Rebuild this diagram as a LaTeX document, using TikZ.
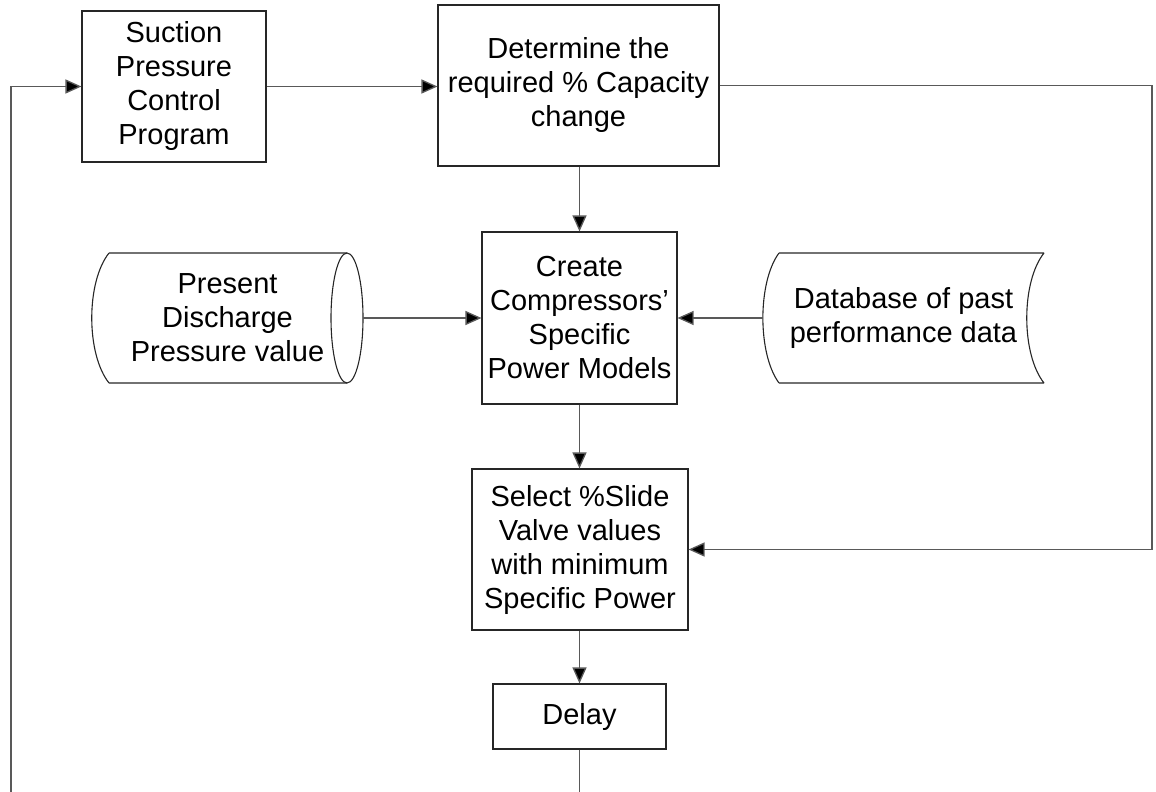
\documentclass[tikz,border=0pt]{standalone}
\usepackage{fontspec}
\setmainfont{Liberation Sans}
\usetikzlibrary{arrows.meta}
\begin{document}
\begin{tikzpicture}[x=1pt,y=-1pt,
  box/.style={draw=black!85,line width=1.1pt,rectangle,align=center,inner sep=0pt,
    font=\fontsize{29}{34}\selectfont},
  txt/.style={align=center,inner sep=0pt,font=\fontsize{29}{34}\selectfont},
  shapeline/.style={draw=black!85,line width=1.1pt},
  conn/.style={draw=black!65,line width=1.3pt},
  arr/.style={conn,-{Triangle[length=16pt,width=14pt,fill=black]}}]
\useasboundingbox (0,0) rectangle (1156,792);
% process boxes
\node[box,minimum width=184pt,minimum height=151pt] (suc) at (174,86.5) {Suction\\Pressure\\Control\\Program};
\node[box,minimum width=281pt,minimum height=161pt] (det) at (578.5,85.5) {Determine the\\required \% Capacity\\change};
\node[box,minimum width=195pt,minimum height=172pt] (cre) at (579.5,318) {Create\\Compressors’\\Specific\\Power Models};
\node[box,minimum width=216pt,minimum height=161pt] (sel) at (580,549.5) {Select \%Slide\\Valve values\\with minimum\\Specific Power};
\node[box,minimum width=173pt,minimum height=65pt] (del) at (579.5,716.5) {Delay};
% stored data shapes
\path[shapeline] (109,253) -- (347,253) (109,383) -- (347,383)
  (109,253) .. controls (86,282) and (86,354) .. (109,383);
\draw[shapeline] (347,318) ellipse [x radius=16, y radius=65];
\node[txt,minimum width=271pt,minimum height=130pt] (pdp) at (227.5,318) {Present\\Discharge\\Pressure value};
\path[shapeline] (779,253) -- (1044,253) (779,383) -- (1044,383)
  (779,253) .. controls (757.5,282) and (757.5,354) .. (779,383)
  (1044,253) .. controls (1021,282) and (1021,354) .. (1044,383);
\node[txt,minimum width=281pt,minimum height=130pt] (db) at (903.5,318) {Database of past\\performance data};
% connectors
\coordinate (bl) at (11,792);
\coordinate (br) at (579.5,792);
\coordinate (tr) at (1152,85.5);
\coordinate (mr) at (1152,549.5);
\draw[arr] (bl) -- (bl |- suc.west) -- (suc.west);
\draw[arr] (suc.east) -- (suc.east -| det.west);
\draw[arr] (det.south -| cre.north) -- (cre.north);
\draw[arr] (pdp.east) -- (cre.west);
\draw[arr] (db.west) -- (cre.east);
\draw[arr] (cre.south) -- (sel.north -| cre.south);
\draw[arr] (det.east) -- (tr) -- (mr) -- (sel.east);
\draw[arr] (sel.south -| del.north) -- (del.north);
\draw[conn] (del.south) -- (br);
\end{tikzpicture}
\end{document}
